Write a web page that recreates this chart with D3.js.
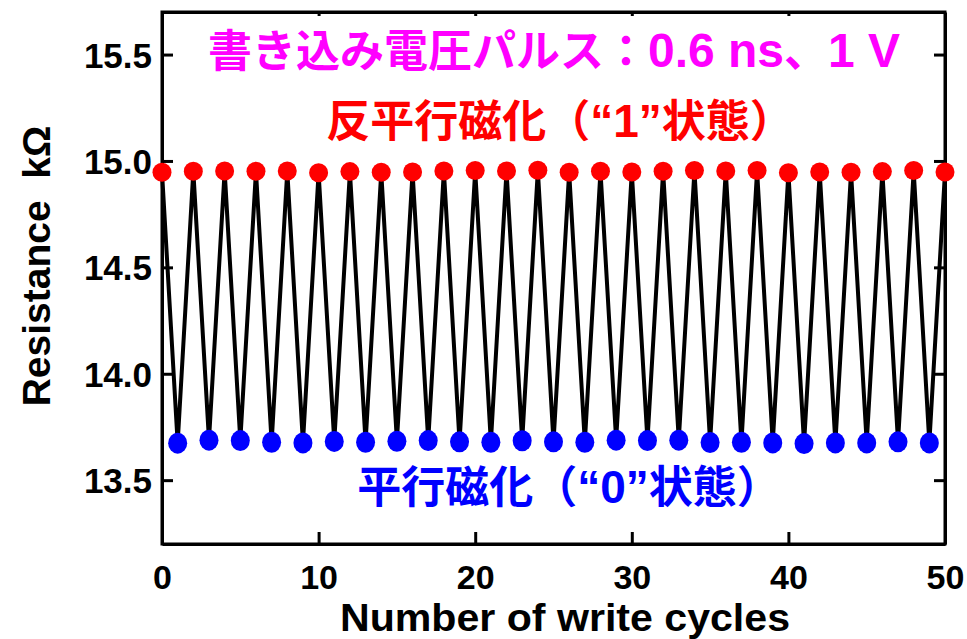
<!DOCTYPE html>
<html><head><meta charset="utf-8">
<script src="https://cdn.jsdelivr.net/npm/d3@7"></script>
<style>body{margin:0;background:#fff}svg{display:block}</style>
</head><body>
<script>
// Data
const cycles = d3.range(0, 51);
const apValues = [14.947,14.952,14.953,14.952,14.953,14.945,14.950,14.947,14.948,14.953,14.955,14.953,14.956,
                  14.947,14.952,14.948,14.952,14.955,14.953,14.955,14.945,14.948,14.947,14.950,14.955,14.948]; // even cycles
const pValues  = [13.674,13.688,13.686,13.678,13.675,13.682,13.678,13.683,13.686,13.680,13.678,13.685,13.680,
                  13.678,13.688,13.686,13.688,13.677,13.678,13.675,13.672,13.675,13.675,13.680,13.675]; // odd cycles
const xTicks = [0, 10, 20, 30, 40, 50];
const yTicks = [13.5, 14.0, 14.5, 15.0, 15.5];
// annotation pieces: [text, isLatin]
const titleParts = [["書き込み電圧パルス：", false], ["0.6 ns", true], ["、", false], ["1 V", true]];
const apParts = [["反平行磁化（", false], ["“1”", true], ["状態）", false]];
const pParts = [["平行磁化（", false], ["“0”", true], ["状態）", false]];
const xTitle = "Number of write cycles";
const yTitle = "Resistance  kΩ";

const series = cycles.map(c => ({x: c, y: c % 2 === 0 ? apValues[c/2] : pValues[(c-1)/2], ap: c % 2 === 0}));

const W = 967, H = 639;
const m = {l: 162, r: 22, t: 12, b: 95};
const svg = d3.select("body").append("svg").attr("width", W).attr("height", H);
const x = d3.scaleLinear().domain([0, 50]).range([m.l, W - m.r]);
const y = d3.scaleLinear().domain([13.2, 15.7]).range([H - m.b, m.t]);

const fontLatin = "'Liberation Sans', Arial, sans-serif";
const fontCJK = "'Noto Sans CJK JP', sans-serif";

// axes
const axB = svg.append("g").attr("transform", `translate(0,${H - m.b})`)
  .call(d3.axisBottom(x).tickValues(xTicks).tickSizeInner(-12).tickSizeOuter(0).tickPadding(21).tickFormat(d3.format("d")));
const axT = svg.append("g").attr("transform", `translate(0,${m.t})`)
  .call(d3.axisTop(x).tickValues(xTicks).tickSizeInner(-4).tickSizeOuter(0).tickFormat(""));
const axL = svg.append("g").attr("transform", `translate(${m.l},0)`)
  .call(d3.axisLeft(y).tickValues(yTicks).tickSizeInner(-11).tickSizeOuter(0).tickPadding(10).tickFormat(d3.format(".1f")));
const axR = svg.append("g").attr("transform", `translate(${W - m.r},0)`)
  .call(d3.axisRight(y).tickValues(yTicks).tickSizeInner(-11).tickSizeOuter(0).tickFormat(""));
[axB, axT, axL, axR].forEach(a => {
  a.select(".domain").attr("stroke", "#000").attr("stroke-width", 3);
  a.selectAll(".tick line").attr("stroke", "#000").attr("stroke-width", 3);
});
axB.selectAll(".tick line").filter(d => d === 0 || d === 50).remove();
axT.selectAll(".tick line").filter(d => d === 0 || d === 50).remove();
axB.selectAll("text").attr("font-family", fontLatin).attr("font-weight", "bold").attr("font-size", 34).attr("fill", "#000");
axL.selectAll("text").attr("font-family", fontLatin).attr("font-weight", "bold").attr("font-size", 35).attr("fill", "#000").attr("dy", "0.36em");
// close the frame corners
svg.append("rect").attr("x", m.l).attr("y", m.t).attr("width", W - m.r - m.l).attr("height", H - m.b - m.t)
  .attr("fill", "none").attr("stroke", "#000").attr("stroke-width", 3);

// line
svg.append("path").datum(series)
  .attr("d", d3.line().x(d => x(d.x)).y(d => y(d.y)))
  .attr("fill", "none").attr("stroke", "#000").attr("stroke-width", 4).attr("stroke-linejoin", "miter");

// points
svg.append("g").selectAll("ellipse").data(series).join("ellipse")
  .attr("cx", d => x(d.x)).attr("cy", d => y(d.y))
  .attr("rx", 9.5).attr("ry", d => d.ap ? 9.5 : 10.5)
  .attr("fill", d => d.ap ? "#ff0000" : "#0000ff");

// annotations
function mixedText(parts, cx, by, color, cjkSize, latinSize) {
  const t = svg.append("text").attr("x", cx).attr("y", by).attr("text-anchor", "middle")
    .attr("font-weight", "bold").attr("fill", color).style("white-space", "pre");
  t.selectAll("tspan").data(parts).join("tspan")
    .attr("font-family", d => d[1] ? fontLatin : fontCJK)
    .attr("font-size", d => d[1] ? latinSize : cjkSize)
    .text(d => d[0]);
}
mixedText(titleParts, 554, 67, "#ff00ff", 44, 48);
mixedText(apParts, 560, 137, "#ff0000", 44, 46);
mixedText(pParts, 569, 503, "#0000ff", 44, 46);

// axis titles
svg.append("text").attr("x", 565).attr("y", 631).attr("text-anchor", "middle")
  .attr("textLength", 450).attr("lengthAdjust", "spacingAndGlyphs")
  .attr("font-family", fontLatin).attr("font-weight", "bold").attr("font-size", 38).attr("fill", "#000").text(xTitle);
svg.append("text").attr("transform", `translate(50,266) rotate(-90)`).attr("text-anchor", "middle")
  .style("white-space", "pre")
  .attr("font-family", fontLatin).attr("font-weight", "bold").attr("font-size", 39).attr("fill", "#000").text(yTitle);
</script>
</body></html>
